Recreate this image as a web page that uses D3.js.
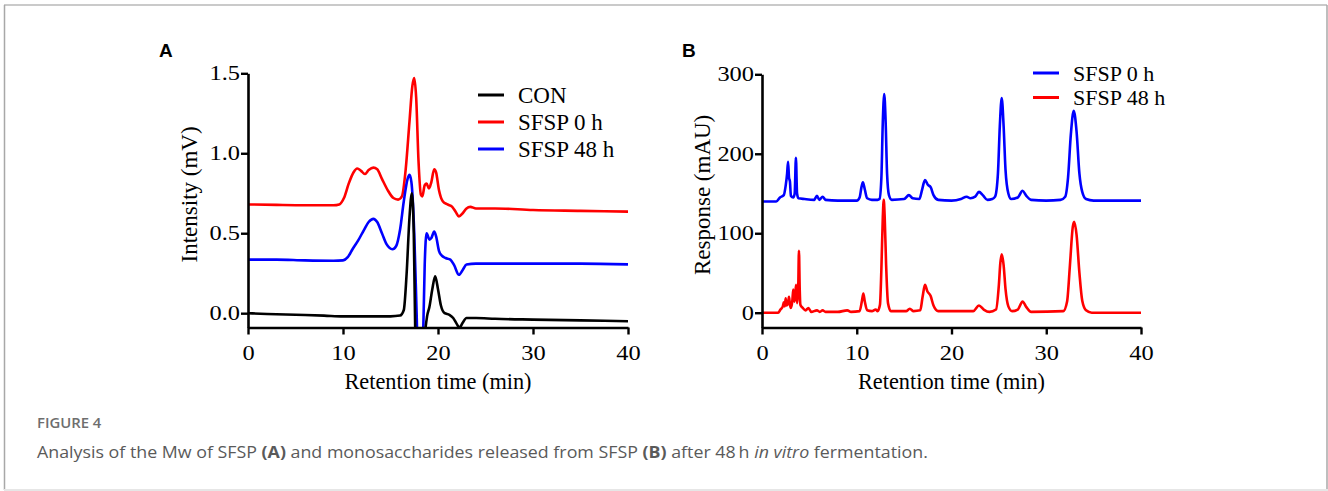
<!DOCTYPE html>
<html>
<head>
<meta charset="utf-8">
<script src="https://cdn.jsdelivr.net/npm/d3@7"></script>
<style>
  body { margin: 0; background: #fff; }
  svg { display: block; }
</style>
</head>
<body>
<svg id="fig" width="1328" height="491"></svg>
<script>
// Panel A: GPC traces, [retention time (min), intensity (mV)]
const conA = [[0,0.0],[2,-0.005],[5,-0.01],[8,-0.015],[10,-0.02],[13,-0.02],[15,-0.02],[16,-0.015],[16.4,0.02],[16.7,0.25],[17.0,0.6],[17.25,0.75],[17.45,0.5],[17.6,-0.1],[17.8,-0.5],[18.3,-0.5],[18.6,-0.15],[18.85,-0.02],[19.1,0.04],[19.4,0.15],[19.7,0.23],[20.0,0.15],[20.3,0.05],[20.7,0.0],[21.2,-0.01],[21.6,-0.03],[22.0,-0.07],[22.25,-0.09],[22.6,-0.06],[23.0,-0.03],[24,-0.03],[26,-0.035],[30,-0.04],[35,-0.045],[40,-0.05]];
const sfsp0hA = [[0,0.68],[3,0.677],[6,0.675],[9,0.675],[9.6,0.68],[10.1,0.72],[10.6,0.81],[11.1,0.88],[11.5,0.905],[11.9,0.89],[12.3,0.87],[12.7,0.895],[13.2,0.91],[13.6,0.9],[14.1,0.84],[14.7,0.77],[15.3,0.72],[15.8,0.71],[16.2,0.73],[16.6,0.9],[17.0,1.2],[17.3,1.42],[17.5,1.47],[17.7,1.35],[17.95,0.95],[18.2,0.74],[18.35,0.73],[18.6,0.8],[18.8,0.81],[19.05,0.78],[19.3,0.82],[19.6,0.9],[19.8,0.88],[20.1,0.77],[20.5,0.70],[21.0,0.68],[21.5,0.665],[21.9,0.63],[22.2,0.605],[22.6,0.625],[23.0,0.655],[23.4,0.665],[24,0.655],[26,0.655],[30,0.645],[35,0.64],[40,0.635]];
const sfsp48hA = [[0,0.335],[3,0.335],[6,0.33],[9,0.328],[10,0.33],[10.5,0.35],[11,0.4],[11.6,0.455],[12.2,0.52],[12.7,0.57],[13.2,0.59],[13.6,0.57],[14.1,0.5],[14.6,0.43],[15.2,0.40],[15.6,0.42],[16.0,0.52],[16.4,0.7],[16.8,0.84],[17.0,0.865],[17.2,0.82],[17.5,0.5],[17.75,0.0],[17.9,-0.3],[18.2,-0.35],[18.45,-0.1],[18.6,0.3],[18.8,0.5],[19.1,0.46],[19.3,0.47],[19.6,0.51],[19.8,0.48],[20.1,0.39],[20.4,0.36],[20.8,0.345],[21.3,0.335],[21.7,0.3],[22.2,0.24],[22.6,0.27],[23.0,0.305],[24,0.31],[26,0.31],[30,0.31],[35,0.31],[40,0.305]];

// Panel B: monosaccharide HPLC traces, [retention time (min), response (mAU)]
const sfsp0hB = [[0,140],[1.5,140],[1.9,145],[2.3,148],[2.5,160],[2.65,175],[2.75,190],[2.85,170],[2.95,165],[3.05,147],[3.3,145],[3.45,150],[3.58,195],[3.7,150],[3.85,144],[4.5,143],[5.5,142],[5.8,147],[6.05,142],[6.4,146],[6.7,142],[8,141],[10,141],[10.3,145],[10.5,158],[10.65,164],[10.85,155],[11.1,144],[11.6,142],[12.2,142],[12.4,143],[12.6,170],[12.75,240],[12.9,275],[13.05,240],[13.2,175],[13.4,148],[13.7,142],[15,143],[15.5,148],[15.9,144],[16.6,143],[16.9,155],[17.2,167],[17.5,161],[17.8,158],[18.1,148],[18.6,142],[20,141],[21,143],[21.6,146],[22.0,144],[22.5,146],[22.9,152],[23.3,148],[23.8,142],[24.3,143],[24.6,146],[24.9,175],[25.1,235],[25.3,270],[25.5,235],[25.7,180],[26.0,150],[26.3,143],[27.0,145],[27.5,153.5],[27.9,147],[28.4,142],[30,141],[31.5,142],[32.0,146],[32.3,170],[32.6,225],[32.9,254],[33.2,228],[33.5,175],[33.8,152],[34.2,143],[35,141],[40,141]];
const sfsp48hB = [[0,0],[1.7,0],[1.95,4],[2.2,8],[2.3,13],[2.4,8],[2.5,18],[2.6,9],[2.75,12],[2.85,20],[2.95,10],[3.05,6],[3.2,15],[3.3,29],[3.42,14],[3.5,22],[3.6,35],[3.7,12],[3.82,30],[3.9,78],[3.98,30],[4.05,10],[4.3,6],[4.6,3],[4.9,6],[5.2,1],[5.8,3],[6.1,1],[6.4,3],[6.7,1],[8,1],[9,3],[9.4,1],[10.3,2],[10.55,15],[10.7,24],[10.85,14],[11.1,3],[11.6,2],[12.0,4],[12.2,2],[12.45,10],[12.6,55],[12.75,120],[12.85,142],[12.95,120],[13.1,60],[13.3,12],[13.6,2],[15.2,2],[15.6,5],[16.0,2],[16.7,3],[16.95,20],[17.2,35],[17.45,27],[17.8,21],[18.1,9],[18.6,2],[22.3,2],[22.9,9],[23.4,4],[24.0,1],[24.7,4],[25.0,35],[25.15,62],[25.3,73.5],[25.5,60],[25.7,30],[26.0,8],[26.4,2],[27.0,4],[27.5,14],[27.9,7],[28.4,1],[31.8,2],[32.2,14],[32.5,60],[32.8,108],[32.95,114.5],[33.2,98],[33.5,50],[33.8,15],[34.2,3],[34.8,0],[40,0]];

const xTicks = [0, 10, 20, 30, 40];
const yTicksA = [0, 0.5, 1.0, 1.5];
const yTicksB = [0, 100, 200, 300];

const serif = "'Liberation Serif', 'Times New Roman', serif";
const svg = d3.select("#fig");

// figure frame
svg.append("line").attr("x1", 4).attr("x2", 1327).attr("y1", 5).attr("y2", 5)
  .attr("stroke", "#b8b8b8").attr("stroke-width", 1.5);
svg.append("line").attr("x1", 4.5).attr("x2", 4.5).attr("y1", 5).attr("y2", 490)
  .attr("stroke", "#a8a8a8").attr("stroke-width", 1.5);
svg.append("line").attr("x1", 1327).attr("x2", 1327).attr("y1", 5).attr("y2", 490)
  .attr("stroke", "#a8a8a8").attr("stroke-width", 1.5);
svg.append("line").attr("x1", 4).attr("x2", 1328).attr("y1", 490).attr("y2", 490)
  .attr("stroke", "#e6e6e6").attr("stroke-width", 2);

function drawPanel(p) {
  const x = d3.scaleLinear().domain([0, 40]).range([p.x0, p.x1]);
  const y = d3.scaleLinear().domain(p.yDomain).range([p.yBottom, p.yTop]);
  const g = svg.append("g");

  g.append("clipPath").attr("id", "clip" + p.letter)
    .append("rect")
    .attr("x", p.x0 - 2).attr("y", 0)
    .attr("width", p.x1 - p.x0 + 4).attr("height", p.yBottom);

  const line = d3.line()
    .x((d) => x(d[0]))
    .y((d) => y(d[1]))
    .curve(d3.curveMonotoneX);

  p.series.forEach((s) => {
    g.append("path")
      .datum(s.data)
      .attr("clip-path", `url(#clip${p.letter})`)
      .attr("fill", "none")
      .attr("stroke", s.color)
      .attr("stroke-width", 2.6)
      .attr("stroke-linejoin", "round")
      .attr("d", line);
  });

  const xAxis = g.append("g")
    .attr("transform", `translate(0,${p.yBottom})`)
    .call(d3.axisBottom(x).tickValues(xTicks).tickSize(7).tickSizeOuter(0).tickPadding(11));
  const yAxis = g.append("g")
    .attr("transform", `translate(${p.x0},0)`)
    .call(d3.axisLeft(y).tickValues(p.yTicks).tickFormat(p.fmt).tickSize(7).tickSizeOuter(0));

  [xAxis, yAxis].forEach((a) => {
    a.select(".domain").attr("stroke", "#000").attr("stroke-width", 2.6);
    a.selectAll(".tick line").attr("stroke", "#000").attr("stroke-width", 2.4);
    a.selectAll(".tick text")
      .attr("fill", "#000")
      .style("font-family", serif)
      .style("font-size", "20px");
  });
  // tick labels are drawn wide in the original
  xAxis.selectAll(".tick text").attr("transform", "scale(1.22,1)");
  yAxis.selectAll(".tick text").attr("x", 0).attr("transform", "translate(-8,0) scale(1.22,1)");

  g.append("text")
    .attr("x", (p.x0 + p.x1) / 2)
    .attr("y", 389)
    .attr("text-anchor", "middle")
    .style("font-family", serif)
    .style("font-size", "22.3px")
    .text("Retention time (min)");

  g.append("text")
    .attr("transform", `translate(${p.yTitleX},${(p.yTop + p.yBottom) / 2 - 6}) rotate(-90)`)
    .attr("text-anchor", "middle")
    .style("font-family", serif)
    .style("font-size", "23px")
    .text(p.yTitle);

  g.append("text")
    .attr("x", p.letterX)
    .attr("y", 57)
    .style("font-family", "'Liberation Sans', Arial, sans-serif")
    .style("font-weight", "bold")
    .style("font-size", "19px")
    .text(p.letter);

  const leg = g.append("g");
  p.legend.forEach((s, i) => {
    const ly = p.legY + i * p.legStep;
    leg.append("line")
      .attr("x1", p.legX).attr("x2", p.legX + 26)
      .attr("y1", ly).attr("y2", ly)
      .attr("stroke", s.color).attr("stroke-width", 3);
    leg.append("text")
      .attr("x", p.legX + 40).attr("y", ly)
      .attr("dy", "0.35em")
      .style("font-family", serif)
      .style("font-size", p.legFont)
      .text(s.name);
  });
}

drawPanel({
  letter: "A", letterX: 159,
  x0: 248, x1: 628, yTop: 73.3, yBottom: 327.5, yDomain: [-0.0895, 1.5],
  yTicks: yTicksA, fmt: d3.format(".1f"),
  yTitle: "Intensity (mV)", yTitleX: 197,
  series: [
    { data: sfsp0hA, color: "#ff0000" },
    { data: sfsp48hA, color: "#0000ff" },
    { data: conA, color: "#000000" },
  ],
  legend: [
    { name: "CON", color: "#000000" },
    { name: "SFSP 0 h", color: "#ff0000" },
    { name: "SFSP 48 h", color: "#0000ff" },
  ],
  legX: 478, legY: 95, legStep: 27, legFont: "23px",
});

drawPanel({
  letter: "B", letterX: 682,
  x0: 762, x1: 1141, yTop: 74.3, yBottom: 327.5, yDomain: [-18.6, 300],
  yTicks: yTicksB, fmt: d3.format("d"),
  yTitle: "Response (mAU)", yTitleX: 710,
  series: [
    { data: sfsp0hB, color: "#0000ff" },
    { data: sfsp48hB, color: "#ff0000" },
  ],
  legend: [
    { name: "SFSP 0 h", color: "#0000ff" },
    { name: "SFSP 48 h", color: "#ff0000" },
  ],
  legX: 1033, legY: 73, legStep: 24.5, legFont: "22px",
});

// caption
svg.append("text")
  .attr("transform", "translate(37,428) scale(1.1,1)")
  .style("font-family", "'Open Sans', sans-serif")
  .style("font-weight", 600)
  .style("font-size", "13.5px")
  .attr("fill", "#6e6e6e")
  .text("FIGURE 4");

const cap = svg.append("text")
  .attr("transform", "translate(37,458) scale(1.08,1)")
  .style("font-family", "'Open Sans', sans-serif")
  .style("font-size", "16.5px")
  .attr("fill", "#5a5a5a");
[
  ["Analysis of the Mw of SFSP ", "normal", "normal"],
  ["(A)", "bold", "normal"],
  [" and monosaccharides released from SFSP ", "normal", "normal"],
  ["(B)", "bold", "normal"],
  [" after 48\u2009h ", "normal", "normal"],
  ["in vitro", "normal", "italic"],
  [" fermentation.", "normal", "normal"],
].forEach(([t, w, s]) => {
  cap.append("tspan").style("font-weight", w).style("font-style", s).text(t);
});
</script>
</body>
</html>
